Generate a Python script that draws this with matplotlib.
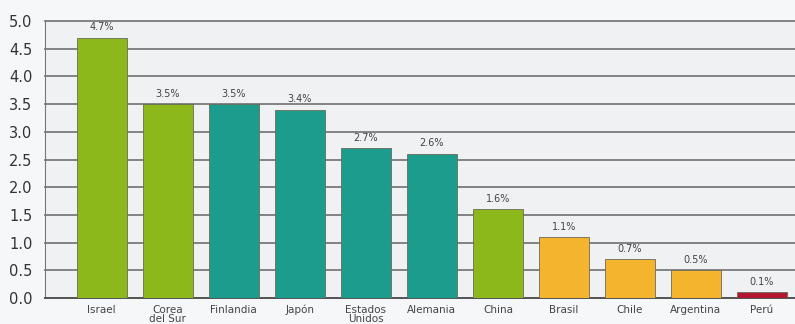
import matplotlib.pyplot as plt

# Data
countries = ["Israel", "Corea\ndel Sur", "Finlandia", "Japón", "Estados\nUnidos",
             "Alemania", "China", "Brasil", "Chile", "Argentina", "Perú"]
values = [4.7, 3.5, 3.5, 3.4, 2.7, 2.6, 1.6, 1.1, 0.7, 0.5, 0.1]
labels = ["4.7%", "3.5%", "3.5%", "3.4%", "2.7%", "2.6%", "1.6%", "1.1%", "0.7%", "0.5%", "0.1%"]
colors = ["#8cb81c", "#8cb81c", "#1b9c8c", "#1b9c8c", "#1b9c8c", "#1b9c8c",
          "#8cb81c", "#f4b42e", "#f4b42e", "#f4b42e", "#b3172f"]
yticks = [0.0, 0.5, 1.0, 1.5, 2.0, 2.5, 3.0, 3.5, 4.0, 4.5, 5.0]

fig = plt.figure(figsize=(7.95, 3.24), dpi=100, facecolor="#f6f7f8")
ax = fig.add_axes([45 / 795, 26 / 324, 750 / 795, 277 / 324], facecolor="#eff1f3")

x = list(range(len(countries)))
bars = ax.bar(x, values, width=0.76, color=colors, edgecolor="#6b6b5a",
              linewidth=0.6, zorder=3)

for b, lab in zip(bars, labels):
    ax.text(b.get_x() + b.get_width() / 2, b.get_height() + 0.1, lab,
            ha="center", va="bottom", fontsize=7, color="#444444")

ax.set_ylim(0, 5.0)
ax.set_xlim(-0.86, 10.5)
ax.set_yticks(yticks)
ax.set_yticklabels([f"{t:.1f}" for t in yticks], fontsize=10.5, color="#333333")
ax.set_xticks(x)
ax.set_xticklabels(countries, fontsize=7.5, color="#444444", linespacing=0.9, va="top")
ax.tick_params(axis="both", length=0)
ax.tick_params(axis="y", pad=9)
ax.tick_params(axis="x", pad=5)

ax.grid(axis="y", color="#7a7a7a", linewidth=1.3, zorder=0)
for gl in ax.get_ygridlines():
    gl.set_clip_on(False)
for s in ["top", "right"]:
    ax.spines[s].set_visible(False)
ax.spines["left"].set_color("#777777")
ax.spines["bottom"].set_color("#555555")
ax.spines["bottom"].set_linewidth(1.4)

fig.savefig("out.png", dpi=100, facecolor=fig.get_facecolor())
